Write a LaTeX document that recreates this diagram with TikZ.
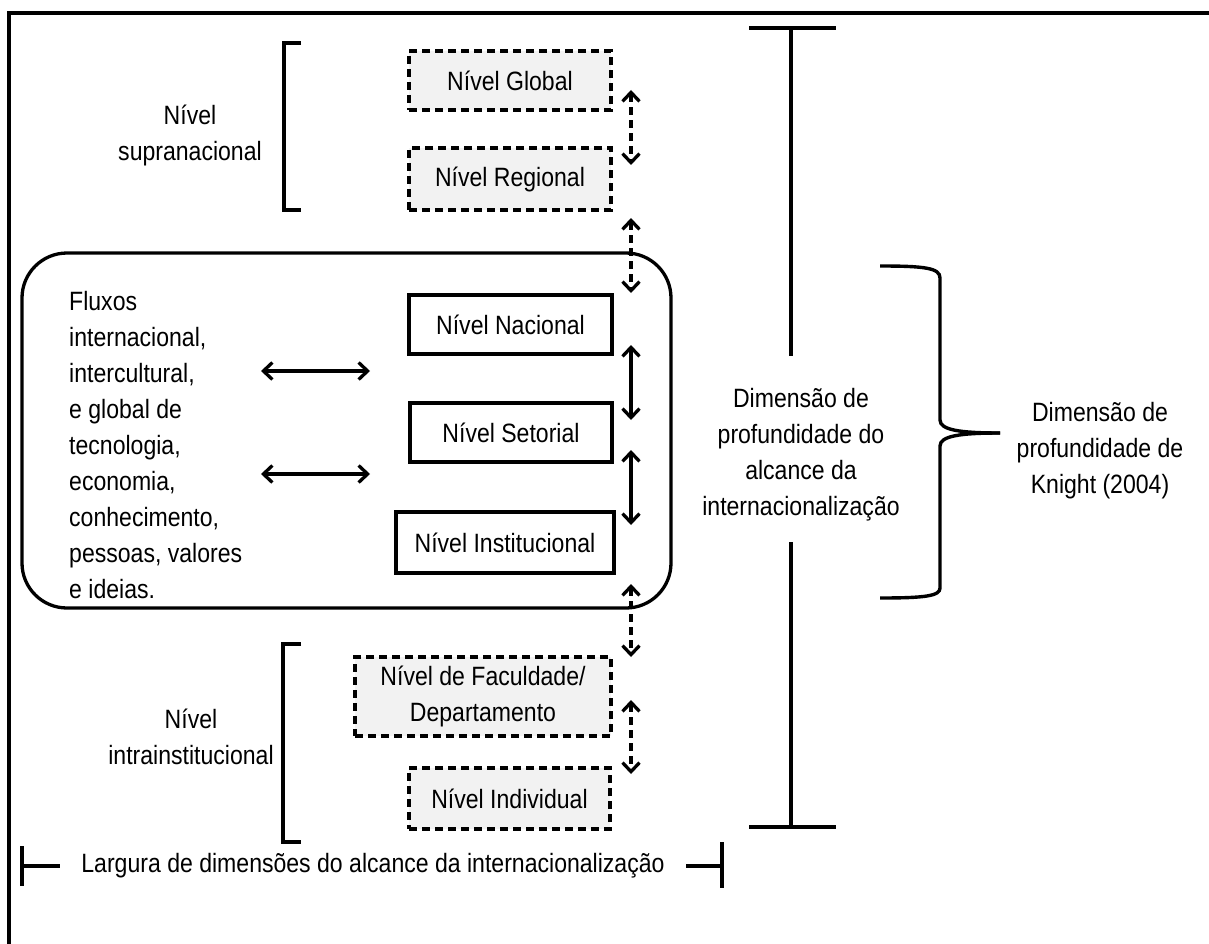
\documentclass[tikz,border=0pt]{standalone}
\usepackage{fontspec}
\setmainfont{Liberation Sans}[FakeStretch=0.87]
\usetikzlibrary{arrows.meta,calc}
\begin{document}
\begin{tikzpicture}[x=1pt,y=-1pt,
  every node/.style={font=\fontsize{26.5}{36}\selectfont, inner sep=0pt},
  lvl/.style={draw, line width=3.3pt, align=center},
  dlvl/.style={lvl, fill=black!5, dash pattern=on 8pt off 5pt},
  tip/.tip={Straight Barb[length=9pt,width=17pt,line width=3.3pt]},
  dar/.style={line width=3.3pt, dash pattern=on 8pt off 5pt, tip-tip},
  sar/.style={line width=3.3pt, tip-tip},
  brk/.style={line width=3.6pt},
  lbl/.style={align=center}
]
\useasboundingbox (0,0) rectangle (1209,944);
% frame
\draw[line width=3.6pt] (9,944) -- (9,13) -- (1209,13);

% level boxes
\node[dlvl, minimum width=202pt, minimum height=59pt] (glob) at (510,80.5) {Nível Global};
\node[dlvl, minimum width=202pt, minimum height=62pt] (reg) at (510,179) {Nível Regional};
\node[lvl, minimum width=203pt, minimum height=59pt] (nac) at (510.5,324.5) {Nível Nacional};
\node[lvl, minimum width=202pt, minimum height=59pt] (set) at (511,432.5) {Nível Setorial};
\node[lvl, minimum width=218pt, minimum height=61pt] (inst) at (505,542.5) {Nível Institucional};
\node[dlvl, minimum width=256pt, minimum height=79pt] (fac) at (483,696.5) {Nível de Faculdade/\\Departamento};
\node[dlvl, minimum width=201pt, minimum height=61pt] (ind) at (509.5,798.5) {Nível Individual};

% rounded container
\node[draw, line width=3.3pt, rounded corners=45pt, minimum width=649pt, minimum height=355pt] (flux) at (346.5,430.5) {};
\node[align=left, anchor=west] (fluxtxt) at (69,445.5) {Fluxos\\internacional,\\intercultural,\\e global de\\tecnologia,\\economia,\\conhecimento,\\pessoas, valores\\e ideias.};

% vertical arrow endpoints
\coordinate (a1) at (631,90);  \coordinate (a2) at (631,165);
\coordinate (b1) at (631,218); \coordinate (b2) at (631,293);
\coordinate (c1) at (631,345); \coordinate (c2) at (631,420);
\coordinate (d1) at (631,450); \coordinate (d2) at (631,525);
\coordinate (e1) at (631,584); \coordinate (e2) at (631,657);
\coordinate (f1) at (631,700); \coordinate (f2) at (631,774);
\draw[dar] (a1) -- (a2);
\draw[dar] (b1) -- (b2);
\draw[sar] (c1) -- (c2);
\draw[sar] (d1) -- (d2);
\draw[dar] (e1) -- (e2);
\draw[dar] (f1) -- (f2);

% horizontal arrows
\coordinate (h1) at (261,371); \coordinate (h2) at (370,371);
\coordinate (k1) at (261,474); \coordinate (k2) at (370,474);
\draw[sar] (h1) -- (h2);
\draw[sar] (k1) -- (k2);

% left brackets and labels
\draw[brk] (301,43) -- (284,43) -- (284,210) -- (301,210);
\node[lbl] (supra) at (190,135) {Nível\\supranacional};
\draw[brk] (301,644) -- (283,644) -- (283,842) -- (301,842);
\node[lbl] (intra) at (191,737) {Nível\\intrainstitucional};

% depth bar
\draw[brk] (749,28) -- (836,28);
\draw[brk] (791,28) -- (791,356);
\draw[brk] (791,542) -- (791,827);
\draw[brk] (749,827) -- (836,827);
\node[lbl] (depth) at (801,454.5) {Dimensão de\\profundidade do\\alcance da\\internacionalização};

% brace
\draw[line width=3.4pt] (880,266) .. controls (925,266) and (940,268) .. (940,278) -- (940,420) .. controls (940,430) and (960,433) .. (1000,433);
\draw[line width=3.4pt] (1000,433) .. controls (960,433) and (940,436) .. (940,446) -- (940,588) .. controls (940,596) and (925,598) .. (880,598);
\node[lbl] (knight) at (1100,451) {Dimensão de\\profundidade de\\Knight (2004)};

% width bar
\draw[brk] (22,846) -- (22,886);
\draw[brk] (22,866) -- (60,866);
\draw[brk] (686,866) -- (722,866);
\draw[brk] (722,842) -- (722,888);
\node (width) at (373,866) {Largura de dimensões do alcance da internacionalização};
\end{tikzpicture}
\end{document}
